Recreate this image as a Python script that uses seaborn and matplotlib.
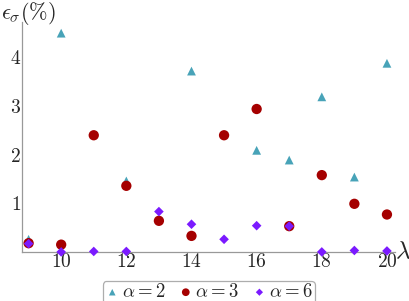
import pandas as pd
import seaborn as sns
import matplotlib.pyplot as plt
from matplotlib.ticker import MultipleLocator

# data
lam_a2 = [9, 10, 12, 14, 16, 17, 18, 19, 20]
err_a2 = [0.26, 4.50, 1.46, 3.72, 2.09, 1.89, 3.19, 1.54, 3.88]

lam_a3 = [9, 10, 11, 12, 13, 14, 15, 16, 17, 18, 19, 20]
err_a3 = [0.18, 0.15, 2.40, 1.36, 0.64, 0.33, 2.40, 2.94, 0.53, 1.58, 0.99, 0.77]

lam_a6 = [9, 10, 11, 12, 13, 14, 15, 16, 17, 18, 19, 20]
err_a6 = [0.17, 0.00, 0.01, 0.01, 0.83, 0.57, 0.26, 0.54, 0.53, 0.00, 0.03, 0.02]

labels = [r'$\alpha=2$', r'$\alpha=3$', r'$\alpha=6$']
colors = ['#48A3B8', '#A50000', '#7B1AFF']
markers = ['^', 'o', 'D']
sizes = [40, 55, 24]

df = pd.concat([
    pd.DataFrame({'lam': lam_a2, 'err': err_a2, 'alpha': labels[0]}),
    pd.DataFrame({'lam': lam_a3, 'err': err_a3, 'alpha': labels[1]}),
    pd.DataFrame({'lam': lam_a6, 'err': err_a6, 'alpha': labels[2]}),
])

sns.set_style('white')
plt.rcParams['mathtext.fontset'] = 'cm'
plt.rcParams['font.family'] = ['DejaVu Serif']

fig = plt.figure(figsize=(4.09, 3.01), dpi=100)
ax = fig.add_axes([0.054, 0.163, 0.912, 0.764])

for lab, col, mk, sz in zip(labels, colors, markers, sizes):
    sns.scatterplot(data=df[df['alpha'] == lab], x='lam', y='err', color=col,
                    marker=mk, s=sz, edgecolor='none', ax=ax, label=lab, zorder=3,
                    clip_on=False)

ax.set_xlim(8.8, 20.25)
ax.set_ylim(0, 4.73)
ax.xaxis.set_minor_locator(MultipleLocator(0.5))
ax.yaxis.set_minor_locator(MultipleLocator(0.2))
ax.set_xticks([10, 12, 14, 16, 18, 20])
ax.set_xticklabels([f'${t}$' for t in [10, 12, 14, 16, 18, 20]])
ax.set_yticks([1, 2, 3, 4])
ax.set_yticklabels([f'${t}$' for t in [1, 2, 3, 4]])
ax.tick_params(axis='both', which='major', direction='in', length=4, width=0.8,
               color='#999999', labelsize=14, pad=1)
ax.tick_params(axis='both', which='minor', direction='in', length=2.5, width=0.6,
               color='#999999')

for side in ['top', 'right']:
    ax.spines[side].set_visible(False)
for side in ['left', 'bottom']:
    ax.spines[side].set_color('#999999')
    ax.spines[side].set_linewidth(0.9)

ax.set_xlabel('')
ax.set_ylabel('')
fig.text(0.003, 0.955, r'$\epsilon_\sigma(\%)$', fontsize=16, va='center', ha='left')
fig.text(0.965, 0.163, r'$\lambda$', fontsize=18, va='center', ha='left')

handles, labs = ax.get_legend_handles_labels()
ax.get_legend().remove()
leg = fig.legend(handles, labs, loc='upper center', bbox_to_anchor=(0.51, 0.098),
                 ncol=3, fontsize=13.5, frameon=True, handletextpad=0.1,
                 columnspacing=0.7, borderpad=0.12, handlelength=0.8,
                 markerscale=0.75, fancybox=True)
leg.get_frame().set_edgecolor('#999999')
leg.get_frame().set_linewidth(0.9)

fig.savefig('out.png', dpi=100)
